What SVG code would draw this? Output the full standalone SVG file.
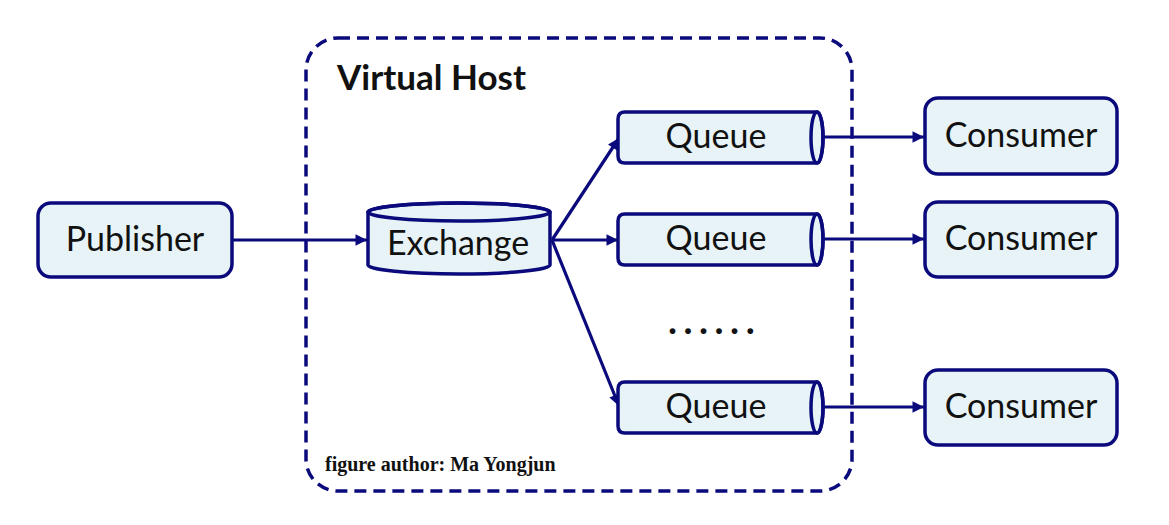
<svg xmlns="http://www.w3.org/2000/svg" width="1169" height="525" viewBox="0 0 1169 525">
<style>
.box{fill:#e7f3f6;stroke:#0a0a7c;stroke-width:3.5}
.lbl{font-family:Lato,"Open Sans",sans-serif;font-size:34px;fill:#111;text-anchor:middle}
.edge{stroke:#0a0a7c;stroke-width:3.2;fill:none;marker-end:url(#ah)}
</style>
<defs>
<marker id="ah" viewBox="0 0 10 10" refX="10" refY="5" markerWidth="4" markerHeight="3.6" orient="auto" markerUnits="strokeWidth">
<path d="M0,0 L10,5 L0,10 Z" fill="#0a0a7c"/>
</marker>
</defs>
<rect width="1169" height="525" fill="#ffffff"/>
<g id="virtual-host">
<rect x="306" y="38" width="546" height="453" rx="32" fill="none" stroke="#0a0a7c" stroke-width="3.5" stroke-dasharray="12 7"/>
<text x="337" y="90" font-family="Lato,'Open Sans',sans-serif" font-size="35" font-weight="bold" fill="#111">Virtual Host</text>
<text x="325" y="471" font-family="'Liberation Serif',serif" font-size="20" font-weight="bold" fill="#111">figure author: Ma Yongjun</text>
</g>
<g id="connectors">
<line class="edge" x1="233" y1="240" x2="367" y2="240"/>
<line class="edge" x1="552" y1="240" x2="619" y2="138"/>
<line class="edge" x1="552" y1="240" x2="618" y2="240"/>
<line class="edge" x1="552" y1="240" x2="619" y2="406"/>
<line class="edge" x1="822" y1="137" x2="924" y2="137"/>
<line class="edge" x1="822" y1="239" x2="924" y2="239"/>
<line class="edge" x1="822" y1="407" x2="924" y2="407"/>
</g>
<g id="publisher">
<rect class="box" x="38" y="203" width="194" height="74" rx="13"/>
<text class="lbl" x="135" y="251">Publisher</text>
</g>
<g id="exchange">
<path class="box" d="M368,212 A91,9 0 0 1 550,212 V265 A91,9 0 0 1 368,265 Z"/>
<ellipse cx="459" cy="212" rx="91" ry="9" fill="none" stroke="#0a0a7c" stroke-width="3.5"/>
<text class="lbl" x="458" y="255">Exchange</text>
</g>
<g id="queue1">
<path class="box" d="M625,112 H817 A6,25.5 0 0 1 817,163 H625 Q618,163 618,156 V119 Q618,112 625,112 Z"/>
<ellipse cx="817" cy="137.5" rx="6" ry="25.5" fill="none" stroke="#0a0a7c" stroke-width="3.5"/>
<text class="lbl" x="716" y="148">Queue</text>
</g>
<g id="queue2">
<path class="box" d="M625,214 H817 A6,25.5 0 0 1 817,265 H625 Q618,265 618,258 V221 Q618,214 625,214 Z"/>
<ellipse cx="817" cy="239.5" rx="6" ry="25.5" fill="none" stroke="#0a0a7c" stroke-width="3.5"/>
<text class="lbl" x="716" y="250">Queue</text>
</g>
<g id="dots">
<text x="668" y="334" font-family="Lato,sans-serif" font-size="38" font-weight="bold" fill="#111" letter-spacing="6.5">......</text>
</g>
<g id="queue3">
<path class="box" d="M625,382 H817 A6,25.5 0 0 1 817,433 H625 Q618,433 618,426 V389 Q618,382 625,382 Z"/>
<ellipse cx="817" cy="407.5" rx="6" ry="25.5" fill="none" stroke="#0a0a7c" stroke-width="3.5"/>
<text class="lbl" x="716" y="418">Queue</text>
</g>
<g id="consumer1">
<rect class="box" x="925" y="98" width="192" height="76" rx="13"/>
<text class="lbl" x="1021" y="147">Consumer</text>
</g>
<g id="consumer2">
<rect class="box" x="925" y="202" width="192" height="75" rx="13"/>
<text class="lbl" x="1021" y="250">Consumer</text>
</g>
<g id="consumer3">
<rect class="box" x="925" y="370" width="192" height="75" rx="13"/>
<text class="lbl" x="1021" y="418">Consumer</text>
</g>
</svg>
